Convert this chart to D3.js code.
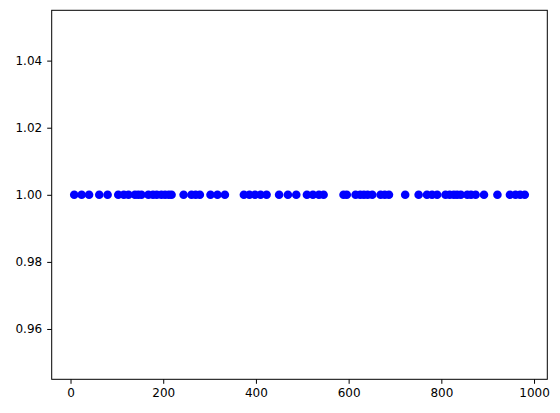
<!DOCTYPE html>
<html>
<head>
<meta charset="utf-8">
<script src="https://cdn.jsdelivr.net/npm/d3@7"></script>
<style>
body{margin:0;background:#fff;}
svg{display:block;}
</style>
</head>
<body>
<svg id="chart" width="560" height="413"></svg>
<script>
const xValues = [8, 24, 40, 62, 80, 103, 115, 125, 139, 146, 153, 168, 178, 186, 196, 204, 212, 218,
  244, 261, 270, 279, 302, 317, 333, 374, 386, 398, 410, 423, 450, 469, 487, 510, 523, 536, 546,
  589, 596, 615, 625, 633, 641, 651, 669, 678, 687, 722, 751, 769, 780, 791, 809, 818, 827, 834,
  842, 856, 864, 874, 892, 921, 948, 960, 970, 980];
const yValues = xValues.map(() => 1.0);
const xTicks = [0, 200, 400, 600, 800, 1000];
const yTicks = [0.96, 0.98, 1.00, 1.02, 1.04];

(function () {
const svg = d3.select("#chart");
const pLeft = 51.7, pRight = 547.3, pTop = 10.3, pBottom = 379.3;

const xMin = d3.min(xValues), xMax = d3.max(xValues);
const xPad = (xMax - xMin) * 0.05;
const x = d3.scaleLinear().domain([xMin - xPad, xMax + xPad]).range([pLeft, pRight]);
const y = d3.scaleLinear().domain([0.945, 1.055]).range([pBottom, pTop]);

const font = "DejaVu Sans, sans-serif";

const pts = xValues.map((v, i) => ({x: v, y: yValues[i]}));
svg.append("g").selectAll("circle").data(pts).join("circle")
  .attr("cx", d => x(d.x)).attr("cy", d => y(d.y)).attr("r", 4.3)
  .attr("fill", "#0000ff");

const xAxis = svg.append("g").attr("transform", `translate(0,${pBottom})`)
  .call(d3.axisBottom(x).tickValues(xTicks).tickFormat(d3.format("d")).tickSize(4.5).tickPadding(5));
const yAxis = svg.append("g").attr("transform", `translate(${pLeft},0)`)
  .call(d3.axisLeft(y).tickValues(yTicks).tickFormat(d3.format(".2f")).tickSize(4.5).tickPadding(5));

[xAxis, yAxis].forEach(a => {
  a.select(".domain").remove();
  a.selectAll(".tick line").attr("stroke", "#000").attr("stroke-width", 1);
  a.selectAll(".tick text").attr("fill", "#000").style("font-family", font).style("font-size", "12px");
});

svg.append("rect").attr("x", pLeft).attr("y", pTop)
  .attr("width", pRight - pLeft).attr("height", pBottom - pTop)
  .attr("fill", "none").attr("stroke", "#000").attr("stroke-width", 1);
})();
</script>
</body>
</html>
